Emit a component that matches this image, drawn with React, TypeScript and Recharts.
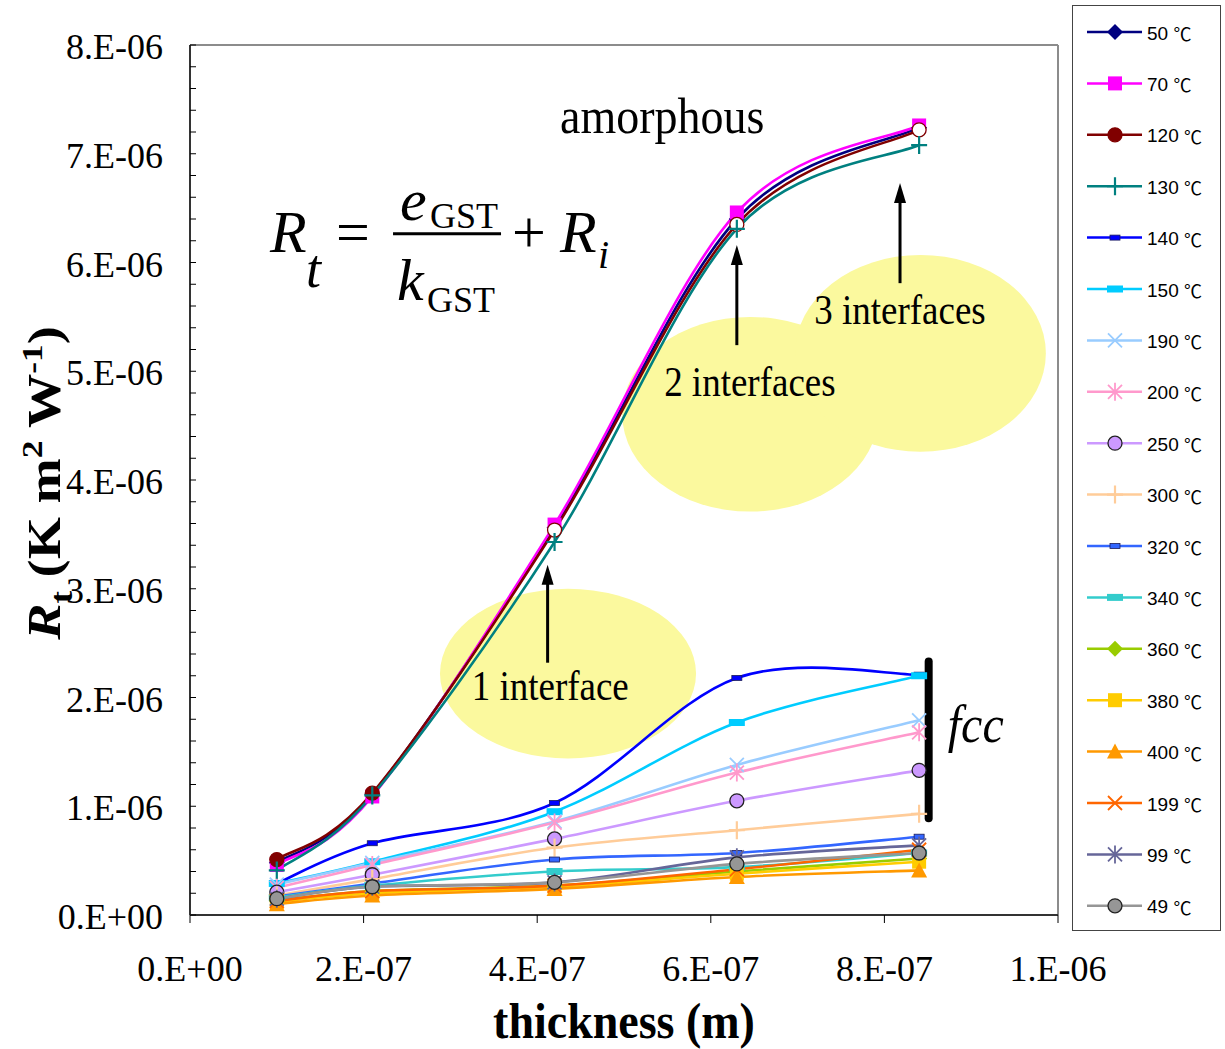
import React from "react";
import {
  LineChart,
  Line,
  XAxis,
  YAxis,
  Legend,
  ReferenceArea,
  ReferenceLine,
  ReferenceDot,
} from "recharts";

const SERIF = "'Liberation Serif', 'Times New Roman', serif";
const SANS = "'Liberation Sans', Arial, sans-serif";
const CJK = "'Noto Sans CJK SC', 'Noto Sans CJK JP', sans-serif";

// film thickness (m)
const thickness = [1.0e-7, 2.1e-7, 4.2e-7, 6.3e-7, 8.4e-7];

// total thermal resistance R_t per anneal temperature, in 1e-6 K m² W⁻¹
const rt50 = [0.48, 1.11, 3.56, 6.4, 7.24];
const rt70 = [0.46, 1.09, 3.59, 6.46, 7.26];
const rt120 = [0.51, 1.12, 3.54, 6.35, 7.22];
const rt130 = [0.41, 1.1, 3.43, 6.31, 7.08];
const rt140 = [0.29, 0.66, 1.03, 2.18, 2.21];
const rt150 = [0.29, 0.49, 0.95, 1.77, 2.2];
const rt190 = [0.28, 0.48, 0.86, 1.38, 1.79];
const rt200 = [0.25, 0.46, 0.85, 1.31, 1.68];
const rt250 = [0.21, 0.37, 0.7, 1.05, 1.33];
const rt300 = [0.18, 0.33, 0.62, 0.78, 0.93];
const rt320 = [0.17, 0.29, 0.51, 0.57, 0.72];
const rt340 = [0.16, 0.27, 0.4, 0.44, 0.57];
const rt360 = [0.13, 0.22, 0.27, 0.4, 0.52];
const rt380 = [0.12, 0.2, 0.26, 0.38, 0.49];
const rt400 = [0.1, 0.18, 0.24, 0.35, 0.41];
const rt199 = [0.13, 0.22, 0.27, 0.42, 0.6];
const rt99 = [0.15, 0.26, 0.3, 0.53, 0.64];
const rt49 = [0.15, 0.26, 0.3, 0.47, 0.57];

const xTicks = [0, 2e-7, 4e-7, 6e-7, 8e-7, 1e-6];
const xTickLabels = ["0.E+00", "2.E-07", "4.E-07", "6.E-07", "8.E-07", "1.E-06"];
const yTickLabels = [
  "0.E+00", "1.E-06", "2.E-06", "3.E-06", "4.E-06",
  "5.E-06", "6.E-06", "7.E-06", "8.E-06",
];
// minor ticks every 2e-7, labelled every fifth
const yTicks = Array.from({ length: 41 }, (_, i) => i * 2e-7);

type MarkerKind =
  | "diamond" | "square" | "circle" | "plus" | "dash" | "bar"
  | "cross" | "star" | "triangle";

interface SeriesDef {
  key: string;
  temp: string;
  color: string;
  marker: MarkerKind;
  values: number[];
  edge?: string;
  hollowFrom?: number;
}

const series: SeriesDef[] = [
  { key: "t50", temp: "50", color: "#000080", marker: "diamond", values: rt50 },
  { key: "t70", temp: "70", color: "#FF00FF", marker: "square", values: rt70 },
  { key: "t120", temp: "120", color: "#800000", marker: "circle", values: rt120, edge: "#800000", hollowFrom: 2 },
  { key: "t130", temp: "130", color: "#008080", marker: "plus", values: rt130 },
  { key: "t140", temp: "140", color: "#0000FF", marker: "dash", values: rt140 },
  { key: "t150", temp: "150", color: "#00CCFF", marker: "bar", values: rt150 },
  { key: "t190", temp: "190", color: "#99CCFF", marker: "cross", values: rt190 },
  { key: "t200", temp: "200", color: "#FF99CC", marker: "star", values: rt200 },
  { key: "t250", temp: "250", color: "#CC99FF", marker: "circle", values: rt250, edge: "#222" },
  { key: "t300", temp: "300", color: "#FFCC99", marker: "plus", values: rt300 },
  { key: "t320", temp: "320", color: "#3366FF", marker: "dash", values: rt320 },
  { key: "t340", temp: "340", color: "#33CCCC", marker: "bar", values: rt340 },
  { key: "t360", temp: "360", color: "#99CC00", marker: "diamond", values: rt360 },
  { key: "t380", temp: "380", color: "#FFCC00", marker: "square", values: rt380 },
  { key: "t400", temp: "400", color: "#FF9900", marker: "triangle", values: rt400 },
  { key: "t199", temp: "199", color: "#FF6600", marker: "cross", values: rt199 },
  { key: "t99", temp: "99", color: "#666699", marker: "star", values: rt99 },
  { key: "t49", temp: "49", color: "#969696", marker: "circle", values: rt49, edge: "#222" },
];

const rows = thickness.map((x, i) => {
  const row: Record<string, number> = { x };
  series.forEach((s) => {
    row[s.key] = s.values[i] * 1e-6;
  });
  return row;
});

// Excel-style smoothed line: cubic Bezier per segment, tangents from neighbours / 6
const smoothCurve = (context: any) => {
  let pts: number[][] = [];
  return {
    areaStart() {},
    areaEnd() {},
    lineStart() {
      pts = [];
    },
    lineEnd() {
      const n = pts.length;
      if (!n) return;
      context.moveTo(pts[0][0], pts[0][1]);
      for (let i = 0; i < n - 1; i++) {
        const p0 = pts[Math.max(i - 1, 0)];
        const p1 = pts[i];
        const p2 = pts[i + 1];
        const p3 = pts[Math.min(i + 2, n - 1)];
        context.bezierCurveTo(
          p1[0] + (p2[0] - p0[0]) / 6,
          p1[1] + (p2[1] - p0[1]) / 6,
          p2[0] - (p3[0] - p1[0]) / 6,
          p2[1] - (p3[1] - p1[1]) / 6,
          p2[0],
          p2[1]
        );
      }
    },
    point(x: number, y: number) {
      pts.push([+x, +y]);
    },
  };
};

const Marker = ({
  kind, cx, cy, color, edge, fill,
}: {
  kind: MarkerKind; cx: number; cy: number; color: string; edge?: string; fill?: string;
}) => {
  switch (kind) {
    case "diamond":
      return <polygon points={`${cx},${cy - 8} ${cx + 8},${cy} ${cx},${cy + 8} ${cx - 8},${cy}`} fill={color} />;
    case "square":
      return <rect x={cx - 7} y={cy - 7} width={14} height={14} fill={color} />;
    case "circle":
      return <circle cx={cx} cy={cy} r={7} fill={fill ?? color} stroke={edge ?? color} strokeWidth={1.3} />;
    case "plus":
      return <path d={`M${cx - 8},${cy}H${cx + 8}M${cx},${cy - 9}V${cy + 9}`} stroke={color} strokeWidth={2.2} />;
    case "dash":
      return <rect x={cx - 5} y={cy - 2.5} width={10} height={5} fill={color} stroke="#1c1c5a" strokeWidth={0.8} />;
    case "bar":
      return <rect x={cx - 8} y={cy - 3.5} width={16} height={7} fill={color} />;
    case "cross":
      return <path d={`M${cx - 7},${cy - 7}L${cx + 7},${cy + 7}M${cx - 7},${cy + 7}L${cx + 7},${cy - 7}`} stroke={color} strokeWidth={1.8} />;
    case "star":
      return (
        <path
          d={`M${cx - 7},${cy - 7}L${cx + 7},${cy + 7}M${cx - 7},${cy + 7}L${cx + 7},${cy - 7}M${cx},${cy - 9}V${cy + 9}`}
          stroke={color}
          strokeWidth={1.8}
        />
      );
    case "triangle":
      return <polygon points={`${cx},${cy - 8} ${cx + 8},${cy + 7} ${cx - 8},${cy + 7}`} fill={color} />;
    default:
      return null;
  }
};

const YTick = ({ x, y, payload }: any) => {
  const step = Math.round(payload.value / 2e-7);
  const label = step % 5 === 0 ? yTickLabels[step / 5] : null;
  return (
    <g>
      <line x1={x} x2={x + 6} y1={y} y2={y} stroke="#000" strokeWidth={1} />
      {label && (
        <text x={x - 27} y={y + 2} textAnchor="end" dominantBaseline="central" fontSize={36} fontFamily={SERIF} fill="#000">
          {label}
        </text>
      )}
    </g>
  );
};

const XTick = ({ x, y, payload }: any) => {
  const idx = Math.round(payload.value / 2e-7);
  return (
    <text
      x={x}
      y={y + 46}
      textAnchor="middle"
      dominantBaseline="central"
      fontSize={36}
      fontFamily={SERIF}
      fill="#000"
    >
      {xTickLabels[idx]}
    </text>
  );
};

const YTitle = ({ viewBox }: any) => {
  const cy = viewBox.y + viewBox.height / 2 + 3;
  return (
    <text
      transform={`translate(${viewBox.x + 60},${cy}) rotate(-90) scale(1.18,1)`}
      textAnchor="middle"
      fontFamily={SERIF}
      fontWeight="bold"
      fontSize={46}
      fill="#000"
    >
      <tspan fontStyle="italic">R</tspan>
      <tspan fontSize={32} dy={12}>t</tspan>
      <tspan dy={-12}> (K m</tspan>
      <tspan fontSize={30} dy={-18}>2</tspan>
      <tspan dy={18}> W</tspan>
      <tspan fontSize={30} dy={-18}>-1</tspan>
      <tspan dy={18}>)</tspan>
    </text>
  );
};

const XTitle = ({ viewBox }: any) => (
  <text
    transform={`translate(${viewBox.x + viewBox.width / 2},${viewBox.y + 123}) scale(1,1.08)`}
    textAnchor="middle"
    fontFamily={SERIF}
    fontWeight="bold"
    fontSize={46}
    fill="#000"
  >
    thickness (m)
  </text>
);

const LegendBox = () => (
  <svg width={149} height={926} style={{ display: "block" }}>
    <rect x={0.5} y={0.5} width={148} height={925} fill="#fff" stroke="#444" />
    {series.map((s, i) => {
      const y = 27 + i * 51.4;
      return (
        <g key={s.key}>
          <line x1={15} x2={70} y1={y} y2={y} stroke={s.color} strokeWidth={2.5} />
          <Marker kind={s.marker} cx={43} cy={y} color={s.color} edge={s.edge} />
          <text x={75} y={y + 1} dominantBaseline="central" fontSize={19} fontFamily={SANS} fill="#000">
            {s.temp}{" "}
            <tspan fontFamily={CJK} fontSize={18}>℃</tspan>
          </text>
        </g>
      );
    })}
  </svg>
);

const Blob = ({ x, y, width, height }: any) => (
  <ellipse cx={x + width / 2} cy={y + height / 2} rx={width / 2} ry={height / 2} fill="#FBF99E" />
);

const Arrow = ({ x1, y1, x2, y2 }: any) => {
  const tip = Math.min(y1, y2);
  const base = Math.max(y1, y2);
  return (
    <g>
      <line x1={x1} x2={x2} y1={base} y2={tip + 16} stroke="#000" strokeWidth={3} />
      <polygon points={`${x1},${tip} ${x1 + 6},${tip + 20} ${x1 - 6},${tip + 20}`} fill="#000" />
    </g>
  );
};

const ThickBar = ({ x1, y1, x2, y2 }: any) => (
  <line x1={x1} x2={x2} y1={y1} y2={y2} stroke="#000" strokeWidth={8} strokeLinecap="round" />
);

const note = (text: string, size: number, anchor: "start" | "middle", italic = false) =>
  ({ cx, cy }: any) => (
    <text
      transform={`translate(${cx},${cy}) scale(1,1.12)`}
      textAnchor={anchor}
      fontFamily={SERIF}
      fontSize={size}
      fontStyle={italic ? "italic" : "normal"}
      fill="#000"
    >
      {text}
    </text>
  );

// R_t = e_GST / k_GST + R_i, drawn from the baseline of the leading R
const Formula = ({ cx, cy }: any) => (
  <g transform={`translate(${cx},${cy})`} fontFamily={SERIF} fill="#000">
    <text x={0} y={0} fontSize={60} fontStyle="italic">R</text>
    <text x={36} y={35} fontSize={54} fontStyle="italic">t</text>
    <text x={66} y={0} fontSize={60}>=</text>
    <text x={130} y={-32} fontSize={60} fontStyle="italic">e</text>
    <text x={160} y={-24} fontSize={36}>GST</text>
    <line x1={123} x2={231} y1={-18} y2={-18} stroke="#000" strokeWidth={3} />
    <text x={127} y={48} fontSize={60} fontStyle="italic">k</text>
    <text x={157} y={60} fontSize={36}>GST</text>
    <text x={242} y={0} fontSize={60}>+</text>
    <text x={290} y={0} fontSize={60} fontStyle="italic">R</text>
    <text x={328} y={16} fontSize={40} fontStyle="italic">i</text>
  </g>
);

export default function App() {
  return (
    <div style={{ position: "absolute", left: 0, top: 0, width: 1225, height: 1049, background: "#fff" }}>
      <LineChart width={1225} height={1049} data={rows} margin={{ top: 45, right: 18, bottom: 0, left: 0 }}>
        <ReferenceArea x1={2.88e-7} x2={5.83e-7} y1={1.44e-6} y2={3.0e-6} shape={<Blob />} />
        <ReferenceArea x1={4.98e-7} x2={7.93e-7} y1={3.71e-6} y2={5.5e-6} shape={<Blob />} />
        <ReferenceArea x1={6.97e-7} x2={9.86e-7} y1={4.26e-6} y2={6.07e-6} shape={<Blob />} />

        <XAxis
          dataKey="x"
          type="number"
          domain={[0, 1e-6]}
          ticks={xTicks}
          interval={0}
          height={134}
          tickSize={8}
          tickMargin={0}
          tickLine={{ stroke: "#000", strokeWidth: 1 }}
          axisLine={{ stroke: "#333", strokeWidth: 2 }}
          tick={<XTick />}
          label={{ content: <XTitle /> }}
        />
        <YAxis
          type="number"
          domain={[0, 8e-6]}
          ticks={yTicks}
          interval={0}
          width={190}
          tickSize={0}
          tickMargin={0}
          tickLine={false}
          axisLine={{ stroke: "#333", strokeWidth: 2 }}
          tick={<YTick />}
          label={{ content: <YTitle /> }}
        />
        <ReferenceLine y={8e-6} stroke="#8c8c8c" strokeWidth={2} />
        <ReferenceLine x={1e-6} stroke="#8c8c8c" strokeWidth={2} />

        {series.map((s) => (
          <Line
            key={s.key}
            dataKey={s.key}
            name={`${s.temp} ℃`}
            stroke={s.color}
            strokeWidth={2.6}
            type={smoothCurve as any}
            isAnimationActive={false}
            activeDot={false}
            dot={(p: any) => (
              <Marker
                key={`${s.key}-${p.index}`}
                kind={s.marker}
                cx={p.cx}
                cy={p.cy}
                color={s.color}
                edge={s.edge}
                fill={s.hollowFrom !== undefined && p.index >= s.hollowFrom ? "#fff" : undefined}
              />
            )}
          />
        ))}

        <ReferenceLine segment={[{ x: 4.12e-7, y: 2.32e-6 }, { x: 4.12e-7, y: 3.22e-6 }]} shape={<Arrow />} />
        <ReferenceLine segment={[{ x: 6.3e-7, y: 5.24e-6 }, { x: 6.3e-7, y: 6.16e-6 }]} shape={<Arrow />} />
        <ReferenceLine segment={[{ x: 8.18e-7, y: 5.81e-6 }, { x: 8.18e-7, y: 6.73e-6 }]} shape={<Arrow />} />
        <ReferenceLine segment={[{ x: 8.51e-7, y: 2.33e-6 }, { x: 8.51e-7, y: 0.89e-6 }]} shape={<ThickBar />} />

        <ReferenceDot x={5.44e-7} y={7.19e-6} shape={note("amorphous", 46, "middle")} />
        <ReferenceDot x={6.45e-7} y={4.77e-6} shape={note("2 interfaces", 37, "middle")} />
        <ReferenceDot x={8.18e-7} y={5.43e-6} shape={note("3 interfaces", 37, "middle")} />
        <ReferenceDot x={4.15e-7} y={1.98e-6} shape={note("1 interface", 37, "middle")} />
        <ReferenceDot x={8.73e-7} y={1.59e-6} shape={note("fcc", 48, "start", true)} />
        <ReferenceDot x={0.922e-7} y={6.1e-6} shape={<Formula />} />

        <Legend
          layout="vertical"
          align="right"
          verticalAlign="top"
          content={<LegendBox />}
          wrapperStyle={{ top: 5, left: 1072, width: 149, height: 926 }}
        />
      </LineChart>
    </div>
  );
}
